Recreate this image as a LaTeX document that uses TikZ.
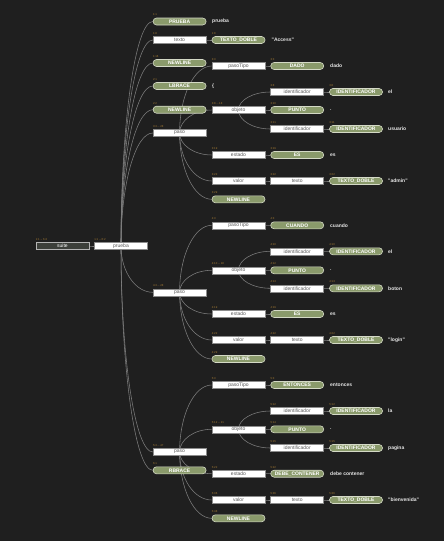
\documentclass[tikz,border=0pt]{standalone}
\usepackage{fontspec}
\newfontfamily\ls{Liberation Sans}
\usetikzlibrary{calc}
\definecolor{bgc}{HTML}{1F1F1F}
\definecolor{edgec}{HTML}{7E7E7E}
\definecolor{boxline}{HTML}{8C8C8C}
\definecolor{boxtext}{HTML}{5A5A5A}
\definecolor{pillfill}{HTML}{8A9A6B}
\definecolor{pillline}{HTML}{D4D9C6}
\definecolor{rootfill}{HTML}{3C3F3A}
\definecolor{rootline}{HTML}{B4B4B4}
\definecolor{tagc}{HTML}{A67C34}
\definecolor{leafc}{HTML}{E6E6E6}
\pgfdeclarelayer{back}
\pgfsetlayers{back,main}
\tikzset{
  basen/.style={minimum width=53pt, minimum height=7pt, inner sep=0pt, line width=0.6pt},
  boxn/.style={basen, draw=boxline, fill=white, text=boxtext, font=\ls\fontsize{5}{6}\selectfont},
  pilln/.style={basen, draw=pillline, fill=pillfill, rounded corners=3.4pt, text=white, font=\ls\bfseries\fontsize{5}{6}\selectfont},
  rootn/.style={basen, draw=rootline, fill=rootfill, text=white, font=\ls\fontsize{5}{6}\selectfont},
  leaf/.style={anchor=west, inner sep=0pt, text=leafc, font=\ls\bfseries\fontsize{5}{6}\selectfont},
  tagn/.style={anchor=south west, inner sep=0pt, yshift=1.6pt, text=tagc, font=\ls\fontsize{2.8}{3}\selectfont},
  link/.style={draw=edgec, line width=0.55pt}
}
\newcommand\tn[6]{\node[#2] (#1) at (#3,#4) {#5};
  \node[tagn] (#1t) at (#1.north west) {#6};}
\newcommand\lf[4]{\node[leaf] (#1) at (#2,#3) {#4};}
\newcommand\lk[2]{\draw[link] (#1.center) .. controls ($(#1.center)!0.55!(#1.center|-#2.west)$) and ($(#2.west)!0.55!(#1.center|-#2.west)$) .. (#2.west);}
\begin{document}
\begin{tikzpicture}[x=1pt,y=-1pt]
\useasboundingbox (0,0) rectangle (444,541);
\begin{pgfonlayer}{back}
\fill[bgc] (0,0) rectangle (444,541);
\end{pgfonlayer}
% root and prueba
\tn{root}{rootn}{62.5}{246}{suite}{1:1 -- 6:2}
\tn{pr}{boxn}{121}{246}{prueba}{1:1 -- 6:2}
% column 1
\tn{ca}{pilln}{179.6}{21.5}{PRUEBA}{1:1}
\tn{cb}{boxn}{179.6}{40}{texto}{1:8}
\tn{cc}{pilln}{179.6}{63}{NEWLINE}{1:16}
\tn{cd}{pilln}{179.6}{86}{LBRACE}{2:1}
\tn{ce}{pilln}{179.6}{109.7}{NEWLINE}{2:2}
\tn{pa}{boxn}{179.6}{133}{paso}{3:3 -- 28}
\tn{pb}{boxn}{179.6}{292.3}{paso}{4:3 -- 28}
\tn{pc}{boxn}{179.6}{452}{paso}{5:3 -- 47}
\tn{rb}{pilln}{179.6}{470.3}{RBRACE}{6:1}
\lf{la}{212}{21.5}{prueba}
\lf{lb}{212}{86}{\{}
\tn{tda}{pilln}{238.5}{40}{TEXTO\_DOBLE}{1:8}
\lf{lc}{271.5}{40}{"Access"}
% block 1
\tn{pta}{boxn}{238.5}{66}{pasoTipo}{3:3}
\tn{oba}{boxn}{238.5}{110}{objeto}{3:8 -- 18}
\tn{esa}{boxn}{238.5}{155}{estado}{3:19}
\tn{vaa}{boxn}{238.5}{181}{valor}{3:22}
\tn{nla}{pilln}{238.5}{199.3}{NEWLINE}{3:29}
\tn{kwa}{pilln}{297.2}{66}{DADO}{3:3}
\tn{iaa}{boxn}{297.2}{92}{identificador}{3:8}
\tn{pua}{pilln}{297.2}{110}{PUNTO}{3:10}
\tn{iba}{boxn}{297.2}{129}{identificador}{3:11}
\tn{eka}{pilln}{297.2}{155}{ES}{3:19}
\tn{txa}{boxn}{297.2}{181}{texto}{3:22}
\tn{Iaa}{pilln}{356}{92}{IDENTIFICADOR}{3:8}
\tn{Iba}{pilln}{356}{129}{IDENTIFICADOR}{3:11}
\tn{Tda}{pilln}{356}{181}{TEXTO\_DOBLE}{3:22}
\lf{l1a}{330}{66}{dado}
\lf{l1b}{330}{110}{.}
\lf{l1c}{330}{155}{es}
\lf{l1d}{388}{92}{el}
\lf{l1e}{388}{129}{usuario}
\lf{l1f}{388}{181}{"admin"}
% block 2
\tn{ptb}{boxn}{238.5}{225.3}{pasoTipo}{4:3}
\tn{obb}{boxn}{238.5}{270.3}{objeto}{4:10 -- 18}
\tn{esb}{boxn}{238.5}{314}{estado}{4:19}
\tn{vab}{boxn}{238.5}{340}{valor}{4:22}
\tn{nlb}{pilln}{238.5}{359}{NEWLINE}{4:29}
\tn{kwb}{pilln}{297.2}{225.3}{CUANDO}{4:3}
\tn{iab}{boxn}{297.2}{251.3}{identificador}{4:10}
\tn{pub}{pilln}{297.2}{270.3}{PUNTO}{4:12}
\tn{ibb}{boxn}{297.2}{288.3}{identificador}{4:13}
\tn{ekb}{pilln}{297.2}{314}{ES}{4:19}
\tn{txb}{boxn}{297.2}{340}{texto}{4:22}
\tn{Iab}{pilln}{356}{251.3}{IDENTIFICADOR}{4:10}
\tn{Ibb}{pilln}{356}{288.3}{IDENTIFICADOR}{4:13}
\tn{Tdb}{pilln}{356}{340}{TEXTO\_DOBLE}{4:22}
\lf{l2a}{330}{225.3}{cuando}
\lf{l2b}{330}{270.3}{.}
\lf{l2c}{330}{314}{es}
\lf{l2d}{388}{251.3}{el}
\lf{l2e}{388}{288.3}{boton}
\lf{l2f}{388}{340}{"login"}
% block 3
\tn{ptc}{boxn}{238.5}{385}{pasoTipo}{5:3}
\tn{obc}{boxn}{238.5}{429.3}{objeto}{5:12 -- 21}
\tn{esc}{boxn}{238.5}{473.7}{estado}{5:22}
\tn{vac}{boxn}{238.5}{500}{valor}{5:36}
\tn{nlc}{pilln}{238.5}{518.3}{NEWLINE}{5:48}
\tn{kwc}{pilln}{297.2}{385}{ENTONCES}{5:3}
\tn{iac}{boxn}{297.2}{411}{identificador}{5:12}
\tn{puc}{pilln}{297.2}{429.3}{PUNTO}{5:14}
\tn{ibc}{boxn}{297.2}{448}{identificador}{5:15}
\tn{ekc}{pilln}{297.2}{473.7}{DEBE\_CONTENER}{5:22}
\tn{txc}{boxn}{297.2}{500}{texto}{5:36}
\tn{Iac}{pilln}{356}{411}{IDENTIFICADOR}{5:12}
\tn{Ibc}{pilln}{356}{448}{IDENTIFICADOR}{5:15}
\tn{Tdc}{pilln}{356}{500}{TEXTO\_DOBLE}{5:36}
\lf{l3a}{330}{385}{entonces}
\lf{l3b}{330}{429.3}{.}
\lf{l3c}{330}{473.7}{debe contener}
\lf{l3d}{388}{411}{la}
\lf{l3e}{388}{448}{pagina}
\lf{l3f}{388}{500}{"bienvenida"}
% connectors
\begin{pgfonlayer}{back}
\lk{root}{pr}
\lk{pr}{ca}\lk{pr}{cb}\lk{pr}{cc}\lk{pr}{cd}\lk{pr}{ce}
\lk{pr}{pa}\lk{pr}{pb}\lk{pr}{pc}\lk{pr}{rb}
\lk{cb}{tda}
\lk{pa}{pta}\lk{pa}{oba}\lk{pa}{esa}\lk{pa}{vaa}\lk{pa}{nla}
\lk{pta}{kwa}\lk{oba}{iaa}\lk{oba}{pua}\lk{oba}{iba}
\lk{iaa}{Iaa}\lk{iba}{Iba}\lk{esa}{eka}\lk{vaa}{txa}\lk{txa}{Tda}
\lk{pb}{ptb}\lk{pb}{obb}\lk{pb}{esb}\lk{pb}{vab}\lk{pb}{nlb}
\lk{ptb}{kwb}\lk{obb}{iab}\lk{obb}{pub}\lk{obb}{ibb}
\lk{iab}{Iab}\lk{ibb}{Ibb}\lk{esb}{ekb}\lk{vab}{txb}\lk{txb}{Tdb}
\lk{pc}{ptc}\lk{pc}{obc}\lk{pc}{esc}\lk{pc}{vac}\lk{pc}{nlc}
\lk{ptc}{kwc}\lk{obc}{iac}\lk{obc}{puc}\lk{obc}{ibc}
\lk{iac}{Iac}\lk{ibc}{Ibc}\lk{esc}{ekc}\lk{vac}{txc}\lk{txc}{Tdc}
\end{pgfonlayer}
\end{tikzpicture}
\end{document}
